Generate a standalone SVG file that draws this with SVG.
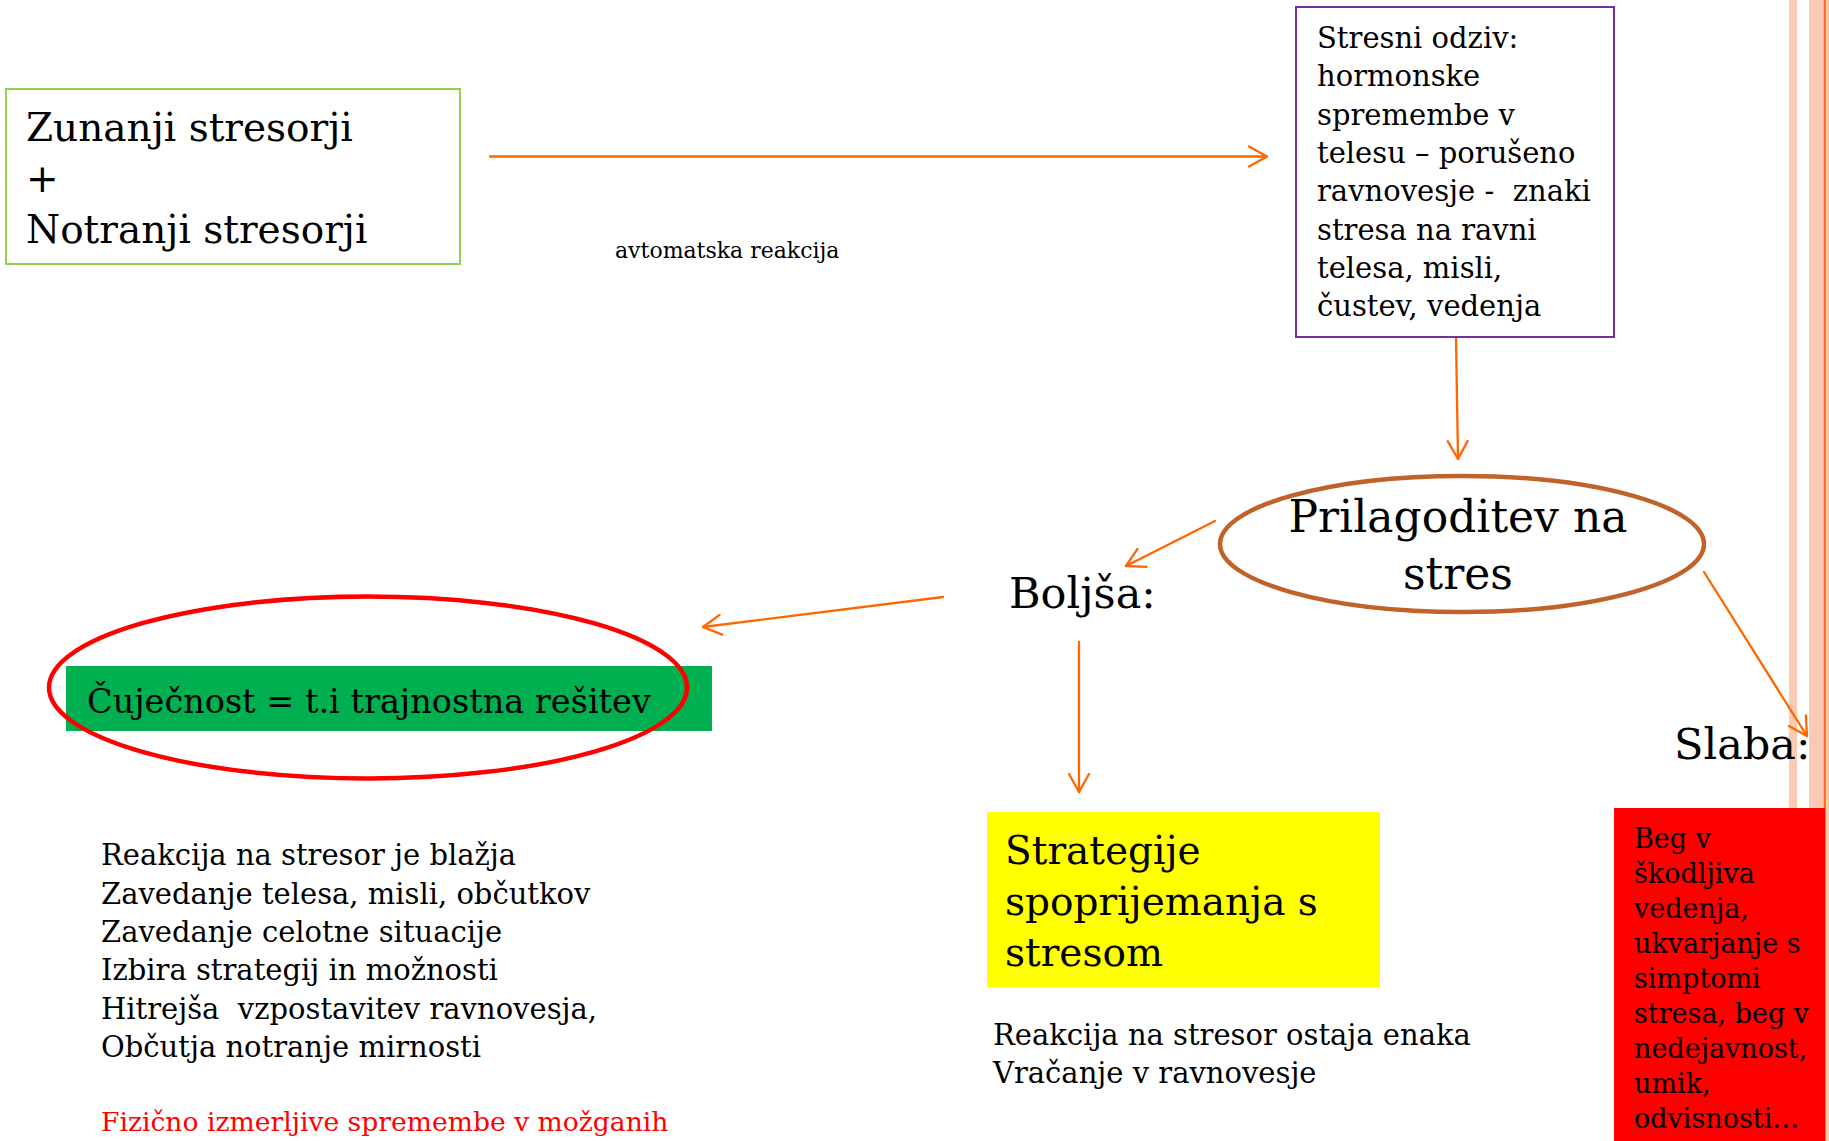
<svg xmlns="http://www.w3.org/2000/svg" width="1829" height="1141" viewBox="0 0 1829 1141">
<style>
text { font-family: "DejaVu Serif", "Liberation Serif", serif; fill: #000; }
.conn { fill: none; stroke: #FF6600; stroke-width: 2.3; stroke-linecap: round; marker-end: url(#arr); }
.stripe { fill: #FCC9B3; }
</style>
<defs>
<marker id="arr" markerUnits="userSpaceOnUse" viewBox="-21 -12 23 24" markerWidth="23" markerHeight="24" refX="0" refY="0" orient="auto" overflow="visible">
<path d="M-18,-10 L0,0 L-18,10" fill="none" stroke="#FF6600" stroke-width="2.3" stroke-linecap="round" stroke-linejoin="round"/>
</marker>
</defs>
<rect width="1829" height="1141" fill="#fff"/>
<g id="border">
<rect class="stripe" x="1789" y="0" width="8" height="1141"/>
<rect class="stripe" x="1809" y="0" width="20" height="1141"/>
<rect x="1823.8" y="0" width="2" height="1141" fill="#FF6A13"/>
</g>
<g id="connectors">
<line class="conn" x1="490" y1="156.5" x2="1267" y2="156.5"/>
<line class="conn" x1="1456" y1="338" x2="1458" y2="459"/>
<line class="conn" x1="1215" y1="521" x2="1126" y2="566"/>
<line class="conn" x1="943" y1="597" x2="703" y2="627"/>
<line class="conn" x1="1079" y1="642" x2="1079" y2="792"/>
<line class="conn" x1="1704" y1="572" x2="1807" y2="736"/>
</g>
<g id="stresorji">
<rect x="6" y="89" width="454" height="175" fill="none" stroke="#92D050" stroke-width="2"/>
<text x="26" y="141" font-size="39">Zunanji stresorji</text>
<text x="26" y="192" font-size="39">+</text>
<text x="26" y="243" font-size="39">Notranji stresorji</text>
</g>
<g id="avtomatska">
<text x="615" y="258" font-size="22">avtomatska reakcija</text>
</g>
<g id="odziv">
<rect x="1296" y="7" width="318" height="330" fill="none" stroke="#7030A0" stroke-width="2"/>
<text font-size="29">
<tspan x="1317" y="48">Stresni odziv:</tspan>
<tspan x="1317" y="86">hormonske</tspan>
<tspan x="1317" y="124.5">spremembe v</tspan>
<tspan x="1317" y="163">telesu – porušeno</tspan>
<tspan x="1317" y="201" xml:space="preserve">ravnovesje -  znaki</tspan>
<tspan x="1317" y="239.5">stresa na ravni</tspan>
<tspan x="1317" y="278">telesa, misli,</tspan>
<tspan x="1317" y="316">čustev, vedenja</tspan>
</text>
</g>
<g id="prilagoditev">
<ellipse cx="1462" cy="544" rx="242" ry="68" fill="none" stroke="#C0622A" stroke-width="4.5"/>
<text x="1458" y="532" font-size="44" text-anchor="middle">Prilagoditev na</text>
<text x="1458" y="589" font-size="44" text-anchor="middle">stres</text>
</g>
<g id="boljsa">
<text x="1009" y="608" font-size="43">Boljša:</text>
</g>
<g id="slaba">
<text x="1674" y="759" font-size="43">Slaba:</text>
</g>
<g id="cujecnost">
<rect x="66" y="666" width="646" height="65" fill="#00B050"/>
<ellipse cx="368" cy="687.5" rx="319" ry="91" fill="none" stroke="#FF0000" stroke-width="4.5"/>
<text x="87" y="713" font-size="33.5">Čuječnost = t.i trajnostna rešitev</text>
</g>
<g id="boljsa-list">
<text font-size="29">
<tspan x="101" y="865">Reakcija na stresor je blažja</tspan>
<tspan x="101" y="903.5">Zavedanje telesa, misli, občutkov</tspan>
<tspan x="101" y="942">Zavedanje celotne situacije</tspan>
<tspan x="101" y="980">Izbira strategij in možnosti</tspan>
<tspan x="101" y="1018.5" xml:space="preserve">Hitrejša  vzpostavitev ravnovesja,</tspan>
<tspan x="101" y="1057">Občutja notranje mirnosti</tspan>
</text>
<text x="101" y="1131" font-size="26.6" style="fill:#FF0000">Fizično izmerljive spremembe v možganih</text>
</g>
<g id="strategije">
<rect x="987" y="812" width="393" height="175" fill="#FFFF00"/>
<text font-size="39">
<tspan x="1005" y="864">Strategije</tspan>
<tspan x="1005" y="915">spoprijemanja s</tspan>
<tspan x="1005" y="966">stresom</tspan>
</text>
</g>
<g id="strategije-list">
<text font-size="29">
<tspan x="993" y="1045">Reakcija na stresor ostaja enaka</tspan>
<tspan x="993" y="1083">Vračanje v ravnovesje</tspan>
</text>
</g>
<g id="slaba-box">
<rect x="1614" y="808" width="211" height="333" fill="#FF0000"/>
<text font-size="27">
<tspan x="1634" y="848">Beg v</tspan>
<tspan x="1634" y="883">škodljiva</tspan>
<tspan x="1634" y="918">vedenja,</tspan>
<tspan x="1634" y="953">ukvarjanje s</tspan>
<tspan x="1634" y="988">simptomi</tspan>
<tspan x="1634" y="1023">stresa, beg v</tspan>
<tspan x="1634" y="1058">nedejavnost,</tspan>
<tspan x="1634" y="1093">umik,</tspan>
<tspan x="1634" y="1128">odvisnosti…</tspan>
</text>
</g>
</svg>
